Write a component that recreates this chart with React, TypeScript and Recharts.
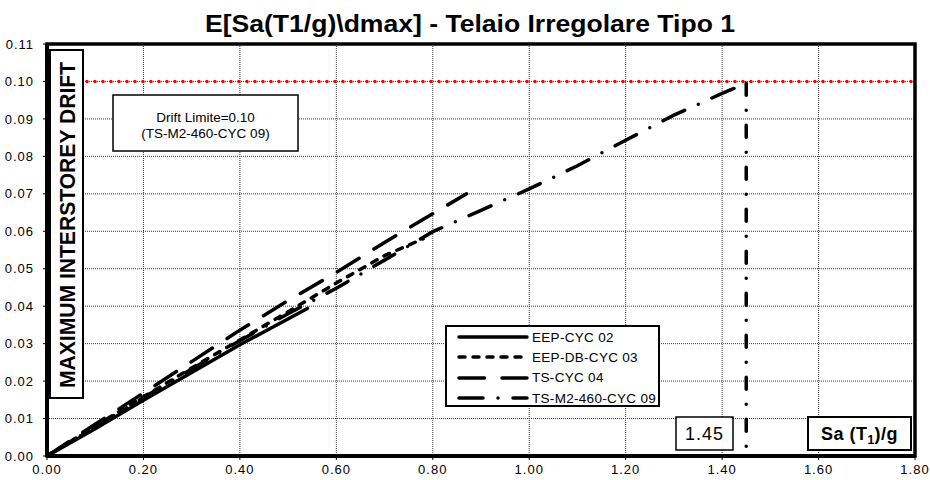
import React from "react";
import {
  CartesianGrid,
  Line,
  LineChart,
  ReferenceArea,
  XAxis,
  YAxis,
} from "recharts";

const xTicks = [0, 0.2, 0.4, 0.6, 0.8, 1.0, 1.2, 1.4, 1.6, 1.8];
const yTicks = [0, 0.01, 0.02, 0.03, 0.04, 0.05, 0.06, 0.07, 0.08, 0.09, 0.1, 0.11];

const eepCyc02Sa = [0, 0.1, 0.2, 0.3, 0.4, 0.54];
const eepCyc02Drift = [0, 0.0073, 0.0149, 0.0223, 0.0297, 0.0394];

const eepDbCyc03Sa = [0, 0.1, 0.2, 0.3, 0.4, 0.5, 0.6, 0.7, 0.78];
const eepDbCyc03Drift = [0, 0.008, 0.0158, 0.0235, 0.031, 0.0385, 0.0462, 0.0535, 0.058];

const tsCyc04Sa = [0, 0.1, 0.2, 0.3, 0.4, 0.5, 0.6, 0.7, 0.8, 0.87];
const tsCyc04Drift = [0, 0.0085, 0.0168, 0.0252, 0.0336, 0.0415, 0.049, 0.057, 0.0647, 0.07];

const tsM2Sa = [0, 0.1, 0.2, 0.3, 0.4, 0.5, 0.6, 0.7, 0.8, 0.9, 1.0, 1.1, 1.2, 1.3, 1.4, 1.45];
const tsM2Drift = [
  0, 0.0078, 0.0156, 0.0232, 0.0308, 0.038, 0.0448, 0.0523, 0.0599, 0.0656, 0.0713,
  0.0775, 0.0843, 0.091, 0.0968, 0.0995,
];

const limitSa = [0, 1.8];
const limitDrift = [0.1, 0.1];

const markerSa = [1.45, 1.45];
const markerDrift = [0.0995, 0];

const toPoints = (xs: number[], ys: number[]) => xs.map((x, i) => ({ x, y: ys[i] }));

const series = [
  { name: "EEP-CYC 02", data: toPoints(eepCyc02Sa, eepCyc02Drift), dash: undefined },
  { name: "EEP-DB-CYC 03", data: toPoints(eepDbCyc03Sa, eepDbCyc03Drift), dash: "6 8" },
  { name: "TS-CYC 04", data: toPoints(tsCyc04Sa, tsCyc04Drift), dash: "25.5 17.5" },
  { name: "TS-M2-460-CYC 09", data: toPoints(tsM2Sa, tsM2Drift), dash: "24 15 0 15" },
];

const font = "Arial, 'Liberation Sans', sans-serif";

// legend drawn by hand so it does not eat into the plot area
function LegendBox() {
  return (
    <div
      style={{
        position: "absolute",
        left: 445,
        top: 325,
        width: 215,
        height: 82,
        boxSizing: "border-box",
        border: "2px solid #000",
        background: "#fff",
        fontFamily: font,
        fontSize: 13.5,
        color: "#000",
      }}
    >
      {series.map((s, i) => (
        <div
          key={s.name}
          style={{
            position: "absolute",
            left: 8,
            top: i * 20.4,
            height: 20,
            display: "flex",
            alignItems: "center",
            whiteSpace: "nowrap",
          }}
        >
          <svg width={76} height={20}>
            <line
              x1={4}
              x2={72}
              y1={10}
              y2={10}
              stroke="#000"
              strokeWidth={3.5}
              strokeLinecap="round"
              strokeDasharray={s.dash}
            />
          </svg>
          <span style={{ marginLeft: 1, letterSpacing: 0.3 }}>{s.name}</span>
        </div>
      ))}
    </div>
  );
}

export default function App() {
  return (
    <div
      style={{
        position: "absolute",
        left: 0,
        top: 0,
        width: 930,
        height: 480,
        background: "#fff",
        fontFamily: font,
      }}
    >
      <LineChart
        width={930}
        height={480}
        margin={{ top: 44, right: 15, bottom: 4, left: 7 }}
      >
        <CartesianGrid stroke="#3a3a3a" strokeDasharray="1 1" />
        <XAxis
          dataKey="x"
          type="number"
          domain={[0, 1.8]}
          ticks={xTicks}
          allowDataOverflow
          height={20}
          tickFormatter={(v: number) => v.toFixed(2)}
          tick={{ fill: "#000", fontSize: 13, fontFamily: font, letterSpacing: 1 }}
          tickSize={4}
          tickMargin={5}
          axisLine={{ stroke: "#000", strokeWidth: 4 }}
          tickLine={{ stroke: "#000" }}
        />
        <YAxis
          type="number"
          domain={[0, 0.11]}
          ticks={yTicks}
          allowDataOverflow
          width={40}
          tickFormatter={(v: number) => v.toFixed(2)}
          tick={{ fill: "#000", fontSize: 13, fontFamily: font, letterSpacing: 1 }}
          tickSize={4}
          tickMargin={9}
          axisLine={{ stroke: "#000", strokeWidth: 4 }}
          tickLine={{ stroke: "#000" }}
        />
        <Line
          data={toPoints(limitSa, limitDrift)}
          dataKey="y"
          stroke="#ff0000"
          strokeWidth={3.5}
          strokeLinecap="round"
          strokeDasharray="0 8"
          dot={false}
          legendType="none"
          isAnimationActive={false}
        />
        <Line
          data={toPoints(markerSa, markerDrift)}
          dataKey="y"
          stroke="#000"
          strokeWidth={3.5}
          strokeLinecap="round"
          strokeDasharray="12 15 0 15"
          dot={false}
          legendType="none"
          isAnimationActive={false}
        />
        {series.map((s) => (
          <Line
            key={s.name}
            name={s.name}
            data={s.data}
            dataKey="y"
            stroke="#000"
            strokeWidth={3.5}
            strokeLinecap="round"
            strokeDasharray={s.dash}
            dot={false}
            isAnimationActive={false}
          />
        ))}
        <ReferenceArea
          x1={0}
          x2={1.8}
          y1={0}
          y2={0.11}
          fill="none"
          fillOpacity={0}
          stroke="#000"
          strokeWidth={3.5}
          ifOverflow="visible"
        />
      </LineChart>

      <LegendBox />

      <svg
        width={930}
        height={480}
        style={{ position: "absolute", left: 0, top: 0, pointerEvents: "none" }}
        fontFamily={font}
      >
        <text
          x={470}
          y={32}
          textAnchor="middle"
          fontSize={24}
          fontWeight="bold"
          textLength={530}
          lengthAdjust="spacingAndGlyphs"
        >
          E[Sa(T1/g)\dmax] - Telaio Irregolare Tipo 1
        </text>

        <rect x={50} y={50} width={33} height={348} fill="#fff" stroke="#000" strokeWidth={2} />
        <text
          transform="translate(67, 225) rotate(-90)"
          textAnchor="middle"
          dominantBaseline="central"
          fontSize={22}
          fontWeight="bold"
          textLength={326}
          lengthAdjust="spacingAndGlyphs"
        >
          MAXIMUM INTERSTOREY DRIFT
        </text>

        <rect x={113} y={95} width={185} height={56} fill="#fff" stroke="#000" strokeWidth={1.5} />
        <text x={205.5} y={117} textAnchor="middle" dominantBaseline="central" fontSize={13.5}>
          Drift Limite=0.10
        </text>
        <text x={205.5} y={133} textAnchor="middle" dominantBaseline="central" fontSize={13.5}>
          (TS-M2-460-CYC 09)
        </text>

        <rect x={676} y={417} width={57} height={33} fill="#fff" stroke="#000" strokeWidth={1.5} />
        <text
          x={704.5}
          y={434}
          textAnchor="middle"
          dominantBaseline="central"
          fontSize={18}
          letterSpacing={1}
        >
          1.45
        </text>

        <rect x={808} y={417} width={103} height={33} fill="#fff" stroke="#000" strokeWidth={2} />
        <text x={859.5} y={440} textAnchor="middle" fontSize={18} fontWeight="bold" letterSpacing={0.5}>
          Sa (T
          <tspan fontSize={12} dy={4}>
            1
          </tspan>
          <tspan dy={-4}>)/g</tspan>
        </text>
      </svg>
    </div>
  );
}
